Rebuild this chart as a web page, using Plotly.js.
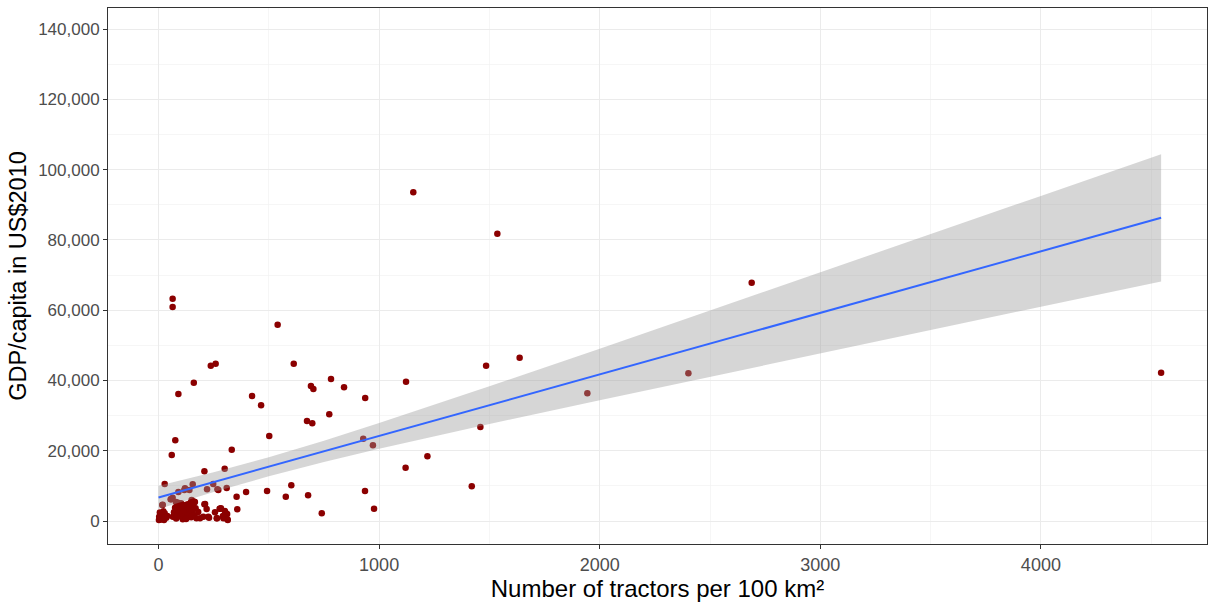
<!DOCTYPE html>
<html>
<head>
<meta charset="utf-8">
<script src="https://cdn.plot.ly/plotly-3.0.1.min.js"></script>
<style>html,body{margin:0;padding:0;background:#fff;}#chart{width:1208px;height:602px;}</style>
</head>
<body>
<div id="chart"></div>
<script>
// Country observations: tractors per 100 km2 vs GDP per capita (US$2010)
const tractors = [
  64, 64, 540, 90, 160, 237, 259, 424, 465, 613, 691, 702, 782, 841, 937, 673, 697, 774,
  1122, 1485, 1637, 1944, 928, 972, 1459, 1219, 1120, 936, 977, 1420,
  1155, 1536, 2689, 2402, 4545,
  502, 76, 60, 332, 208, 300, 28, 155, 120, 140, 90, 248, 220, 267, 309, 354, 397, 492, 577, 602, 678, 740,
  55, 64, 17, 357, 208, 218, 280, 301, 311, 312, 264, 226, 188, 162, 150,
  117, 57, 79, 19, 102, 126, 165, 211, 277, 256, 180, 203, 229, 294,
  271, 283, 306, 292, 265, 314,
  2, 5, 8, 3, 10, 12, 15, 18, 20, 25, 28, 35, 40, 6, 22,
  65, 70, 75, 80, 85, 90, 95, 100, 105, 110, 112, 118, 122, 128, 132, 138, 142, 148, 152, 158, 162, 168, 172, 145, 135, 108, 88, 125
];
const gdpPerCapita = [
  63260, 60900, 55860, 36140, 39360, 44200, 44770, 35570, 32920, 44770, 38420, 37560, 40410, 38040, 35000, 28460, 27800, 30360,
  39650, 44200, 46480, 36340, 23420, 21530, 26750, 18410, 15170, 8540, 3500, 9870,
  93540, 81770, 67820, 42030, 42200,
  24190, 22960, 18780, 20290, 14140, 14900, 10530, 10430, 9300, 8820, 8250, 10530, 9010, 9010, 9390, 6920, 8250, 8540, 6920, 10160, 7310, 2190,
  6170, 6630, 4550, 3330, 4750, 3420, 3500, 2850, 1990, 480, 770, 1220, 770, 5490, 5980,
  8820, 6170, 5410, 4640, 5040, 4640, 5410, 4840, 3500, 2480, 2560, 1220, 940, 770,
  8820, 3610, 2190, 1420, 770, 280,
  300, 800, 1500, 1200, 400, 2000, 600, 1000, 1600, 300, 2200, 900, 1400, 2400, 2800,
  1200, 2500, 3800, 700, 1800, 3000, 4200, 1300, 2200, 500, 3400, 1700, 2800, 900, 4000, 2000, 3200, 1100, 2500, 4300, 1600, 3600, 800, 5200, 4800, 4500, 5200, 600
];

// Linear fit (geom_smooth, method = "lm")
const fitX     = [0, 250, 500, 750, 1000, 1500, 2000, 2500, 3000, 3500, 4000, 4545];
const fitY     = [6700, 11080, 15460, 19830, 24210, 32970, 41720, 50480, 59230, 67990, 76740, 86280];
const fitUpper = [10000, 13900, 18170, 22860, 27860, 38330, 49050, 59870, 70730, 81610, 92510, 104400];
const fitLower = [3400, 8260, 12740, 16800, 20560, 27600, 34390, 41080, 47730, 54360, 60970, 68150];

const xTickVals = [0, 1000, 2000, 3000, 4000];
const yTickVals = [0, 20000, 40000, 60000, 80000, 100000, 120000, 140000];

const font = "'Liberation Sans', Arial, sans-serif";

const traces = [
  {
    x: tractors, y: gdpPerCapita, type: 'scatter', mode: 'markers',
    marker: {color: '#8B0000', size: 6.5, line: {width: 0}},
    hoverinfo: 'x+y', showlegend: false
  },
  {
    x: fitX, y: fitLower, type: 'scatter', mode: 'lines',
    line: {width: 0, color: 'rgba(0,0,0,0)'}, showlegend: false, hoverinfo: 'skip'
  },
  {
    x: fitX, y: fitUpper, type: 'scatter', mode: 'lines', fill: 'tonexty',
    fillcolor: 'rgba(153,153,153,0.4)',
    line: {width: 0, color: 'rgba(0,0,0,0)'}, showlegend: false, hoverinfo: 'skip'
  },
  {
    x: fitX, y: fitY, type: 'scatter', mode: 'lines',
    line: {color: '#3366FF', width: 2}, showlegend: false
  }
];

const layout = {
  width: 1208, height: 602,
  paper_bgcolor: '#ffffff', plot_bgcolor: '#ffffff',
  margin: {l: 108, r: 1, t: 8, b: 58},
  font: {family: font, color: '#4D4D4D'},
  showlegend: false,
  xaxis: {
    range: [-229, 4753],
    tickvals: xTickVals, ticktext: xTickVals.map(String),
    tickfont: {size: 18, color: '#4D4D4D', family: font},
    ticks: 'outside', ticklen: 4, tickcolor: '#333333', tickwidth: 1,
    showgrid: true, gridcolor: '#EBEBEB', gridwidth: 1,
    minor: {dtick: 500, tick0: 0, showgrid: true, gridcolor: '#F2F2F2', gridwidth: 0.7, ticks: ''},
    zeroline: false,
    showline: true, mirror: true, linecolor: '#333333', linewidth: 1,
    title: {text: 'Number of tractors per 100 km²', font: {size: 24, color: '#000000', family: font}, standoff: 0}
  },
  yaxis: {
    range: [-6545, 145990],
    tickvals: yTickVals, ticktext: yTickVals.map(v => v.toLocaleString('en-US')),
    tickfont: {size: 17, color: '#4D4D4D', family: font},
    ticks: 'outside', ticklen: 4, tickcolor: '#333333', tickwidth: 1,
    showgrid: true, gridcolor: '#EBEBEB', gridwidth: 1,
    minor: {dtick: 10000, tick0: 0, showgrid: true, gridcolor: '#F2F2F2', gridwidth: 0.7, ticks: ''},
    zeroline: false,
    showline: true, mirror: true, linecolor: '#333333', linewidth: 1,
    title: {text: 'GDP/capita in US$2010', font: {size: 23.5, color: '#000000', family: font}, standoff: 4}
  }
};

Plotly.newPlot('chart', traces, layout, {displayModeBar: false, staticPlot: true});
</script>
</body>
</html>
